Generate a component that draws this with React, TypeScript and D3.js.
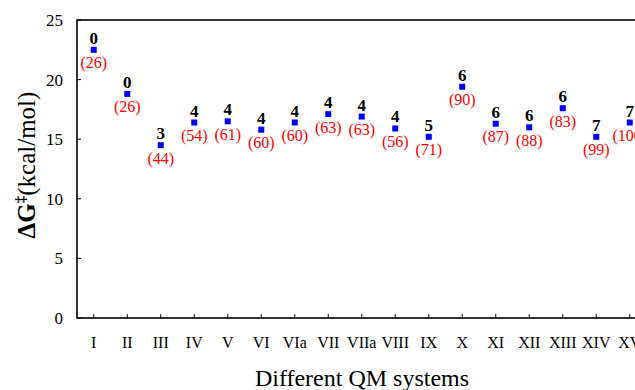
import React from "react";
import * as d3 from "d3";

const categories = ["I", "II", "III", "IV", "V", "VI", "VIa", "VII", "VIIa", "VIII", "IX", "X", "XI", "XII", "XIII", "XIV", "XV"];
const dG = [22.5, 18.8, 14.5, 16.4, 16.5, 15.8, 16.4, 17.1, 16.9, 15.9, 15.2, 19.4, 16.3, 16.0, 17.6, 15.2, 16.4];
const topLabels = ["0", "0", "3", "4", "4", "4", "4", "4", "4", "4", "5", "6", "6", "6", "6", "7", "7"];
const bottomLabels = ["(26)", "(26)", "(44)", "(54)", "(61)", "(60)", "(60)", "(63)", "(63)", "(56)", "(71)", "(90)", "(87)", "(88)", "(83)", "(99)", "(100)"];
const yTicks = [0, 5, 10, 15, 20, 25];

const W = 635;
const H = 390;
const left = 77;
const top = 20;
const bottom = 318;
const right = 646.5;
const font = "'Liberation Serif', 'Times New Roman', serif";

export default function App() {
  const x = d3.scaleBand<string>().domain(categories).range([left, right]).padding(0);
  const y = d3.scaleLinear().domain([0, 25]).range([bottom, top]);
  const cx = (c: string) => (x(c) as number) + x.bandwidth() / 2;
  const sq = 6;

  return (
    <svg width={W} height={H} style={{ position: "absolute", left: 0, top: 0, background: "#fff" }} fontFamily={font}>
      <rect x={0} y={0} width={W} height={H} fill="#fff" />
      {/* frame */}
      <rect x={left} y={top} width={right - left} height={bottom - top} fill="none" stroke="#000" strokeWidth={1.6} />
      {/* y ticks */}
      {yTicks.map((t) => (
        <g key={"y" + t}>
          <line x1={left} x2={left + 4} y1={y(t)} y2={y(t)} stroke="#000" strokeWidth={1} />
          <text x={63} y={y(t)} dy="0.35em" textAnchor="end" fontSize={17} fill="#000">
            {t}
          </text>
        </g>
      ))}
      {/* x ticks */}
      {categories.map((c) => (
        <g key={"x" + c}>
          <line x1={cx(c)} x2={cx(c)} y1={bottom} y2={bottom - 4} stroke="#000" strokeWidth={1} />
          <text x={cx(c)} y={348} textAnchor="middle" fontSize={16} fill="#000">
            {c}
          </text>
        </g>
      ))}
      {/* points */}
      {categories.map((c, i) => (
        <g key={"p" + c}>
          <rect x={cx(c) - sq / 2} y={y(dG[i]) - sq / 2} width={sq} height={sq} fill="#0000ff" />
          <text x={cx(c)} y={y(dG[i]) - 6} textAnchor="middle" fontSize={17} fontWeight="bold" fill="#000">
            {topLabels[i]}
          </text>
          <text x={cx(c)} y={y(dG[i]) + 18.5} textAnchor="middle" fontSize={16} fill="#ff0000">
            {bottomLabels[i]}
          </text>
        </g>
      ))}
      {/* axis titles */}
      <text x={362} y={386} textAnchor="middle" fontSize={24} fill="#000">
        Different QM systems
      </text>
      <text transform="translate(35,165) rotate(-90)" textAnchor="middle" fontSize={25} fill="#000">
        <tspan fontWeight="bold">ΔG</tspan>
        <tspan fontWeight="bold" fontSize={15} dy={-10}>‡</tspan>
        <tspan dy={10}>(kcal/mol)</tspan>
      </text>
    </svg>
  );
}
